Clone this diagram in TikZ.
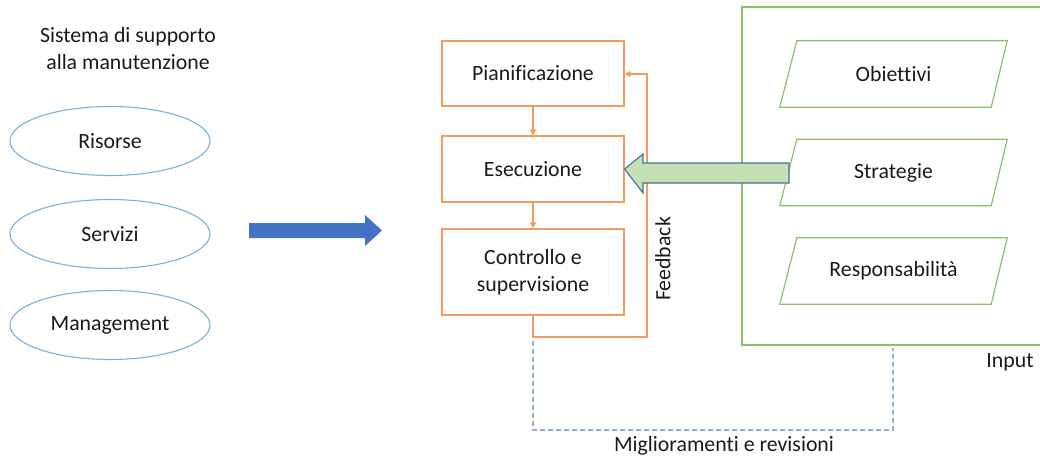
\documentclass[tikz,border=0pt]{standalone}
\usepackage{fontspec}
\setmainfont[Ligatures={NoCommon}]{Carlito}
\usetikzlibrary{arrows.meta,calc,shapes.geometric}
\definecolor{boxorange}{HTML}{F39B62}
\definecolor{framegreen}{HTML}{8CC168}
\definecolor{ovalblue}{HTML}{7BAFE0}
\definecolor{bigarrow}{HTML}{4472C4}
\definecolor{inarrowfill}{HTML}{C5E0B4}
\definecolor{inarrowline}{HTML}{41719C}
\definecolor{dashblue}{HTML}{8FAADC}
\definecolor{txt}{HTML}{1A1A1A}
\tikzset{
  every node/.style={text=txt,font=\fontsize{21.8}{27}\selectfont},
  stagebox/.style={draw=boxorange,line width=1.2pt,minimum width=182pt,align=center,inner sep=0pt},
  oval/.style={draw=ovalblue,line width=1.1pt,ellipse,minimum width=200pt,minimum height=69pt,inner sep=0pt},
  slanted/.style={minimum width=227pt,minimum height=66pt,inner sep=0pt},
  flow/.style={draw=boxorange,line width=1.1pt,-{Triangle[length=6pt,width=6pt]}},
}
\begin{document}
\begin{tikzpicture}[x=1pt,y=-1pt]
\useasboundingbox (0,0) rectangle (1040,461);
\clip (0,0) rectangle (1040,461);

% support system
\node[align=center] (title) at (128,49) {Sistema di supporto\\alla manutenzione};
\node[oval] (ris) at (110,141) {Risorse};
\node[oval] (ser) at (110,234) {Servizi};
\node[oval] (man) at (110,325) {Management};

% block arrow towards the process
\fill[bigarrow] (249,223) -- (365,223) -- (365,215) -- (382,230.5) -- (365,246) -- (365,238) -- (249,238) -- cycle;

% process stages
\node[stagebox,minimum height=65pt] (plan) at (533,73.5) {Pianificazione};
\node[stagebox,minimum height=66pt] (ese) at (533,169) {Esecuzione};
\node[stagebox,minimum height=86pt] (ctrl) at (533,272) {Controllo e\\supervisione};
\draw[flow] (plan.south) -- (ese.north);
\draw[flow] (ese.south) -- (ctrl.north);

% feedback loop
\coordinate (fbA) at (533,337);
\coordinate (fbB) at (647,337);
\coordinate (fbC) at (647,74);
\draw[flow] (ctrl.south) -- (fbA) -- (fbB) -- (fbC) -- (plan.east |- fbC);
\node[rotate=90] (fb) at (663,259) {Feedback};

% input frame
\draw[framegreen,line width=1.2pt] (742,7) rectangle (1060,345);
\node (input) at (1010,362) {Input};
\foreach \nm/\lbl/\yy in {obj/Obiettivi/74, str/Strategie/172.5, resp/Responsabilità/271}{
  \node[slanted] (\nm) at (893.5,\yy) {\lbl};
  \draw[framegreen,line width=1.2pt] ([xshift=17pt]\nm.north west) -- (\nm.north east)
    -- ([xshift=-16pt]\nm.south east) -- (\nm.south west) -- cycle;
}

% input arrow into execution
\filldraw[fill=inarrowfill,draw=inarrowline,line width=1.1pt]
  (ese.east) -- (643,154) -- (643,163) -- (789,163) -- (789,183) -- (643,183) -- (643,193) -- cycle;

% improvements loop
\coordinate (dA) at (533,341);
\coordinate (dB) at (533,430);
\coordinate (dC) at (893,430);
\coordinate (dD) at (893,348);
\draw[dashblue,line width=1.2pt,dash pattern=on 5pt off 3pt] (dA) -- (dB) -- (dC) -- (dD);
\node (imp) at (724,446) {Miglioramenti e revisioni};
\end{tikzpicture}
\end{document}
